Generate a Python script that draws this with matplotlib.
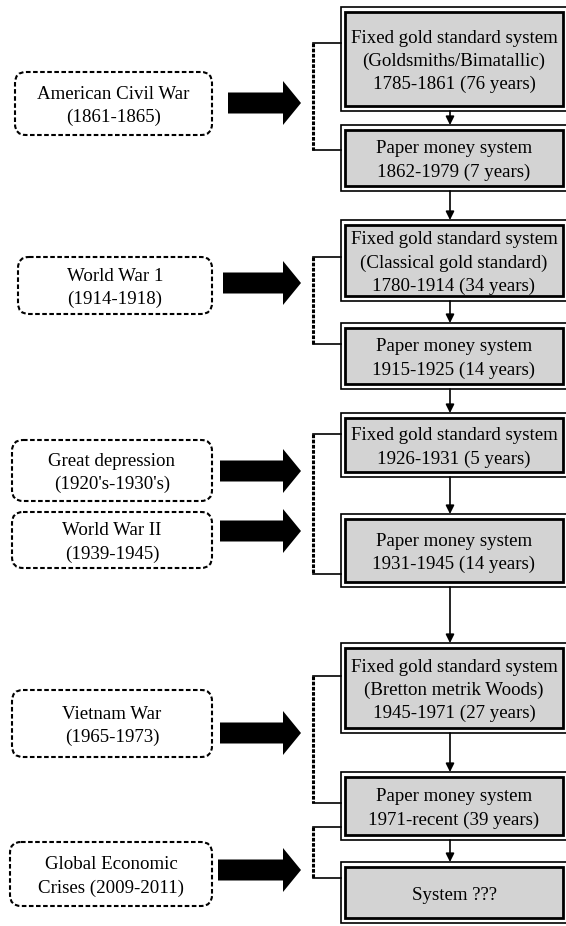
import matplotlib
matplotlib.use("Agg")
from matplotlib import pyplot as plt
from matplotlib.patches import Rectangle, FancyBboxPatch, FancyArrow

plt.rcParams['font.family'] = ['Liberation Serif', 'DejaVu Serif']

# system boxes on the right (text)
system_texts = [
    "Fixed gold standard system\n(Goldsmiths/Bimatallic)\n1785-1861 (76 years)",
    "Paper money system\n1862-1979 (7 years)",
    "Fixed gold standard system\n(Classical gold standard)\n1780-1914 (34 years)",
    "Paper money system\n1915-1925 (14 years)",
    "Fixed gold standard system\n1926-1931 (5 years)",
    "Paper money system\n1931-1945 (14 years)",
    "Fixed gold standard system\n(Bretton metrik Woods)\n1945-1971 (27 years)",
    "Paper money system\n1971-recent (39 years)",
    "System ???",
]
# outer frame top / bottom in pixels
system_top = [7, 125, 220, 323, 413, 514, 643, 772, 862]
system_bot = [111, 191, 301, 389, 477, 587, 733, 840, 923]

# events on the left
event_texts = [
    "American Civil War\n(1861-1865)",
    "World War 1\n(1914-1918)",
    "Great depression\n(1920's-1930's)",
    "World War II\n(1939-1945)",
    "Vietnam War\n(1965-1973)",
    "Global Economic\nCrises (2009-2011)",
]
event_x0 = [15, 18, 12, 12, 12, 10]
event_top = [72, 257, 440, 512, 690, 842]
event_bot = [135, 314, 501, 568, 757, 906]
arrow_x0 = [228, 223, 220, 220, 220, 218]
arrow_y = [103, 283, 471, 531, 733, 870]

# brackets joining the event to the systems
bracket_top = [43, 257, 434, 676, 827]
bracket_bot = [150, 344, 574, 803, 878]

W, H = 566, 926
fig = plt.figure(figsize=(W / 100, H / 100), dpi=100)
ax = fig.add_axes([0, 0, 1, 1])
ax.set_xlim(0, W)
ax.set_ylim(H, 0)
ax.axis('off')

fs = 13.6
ls = 1.45
dy = 2.5  # text sits a touch low in the original
ox0, ox1 = 341, 572
ix0, ix1 = 345, 563
for txt, t, b in zip(system_texts, system_top, system_bot):
    ax.add_patch(Rectangle((ox0, t), ox1 - ox0, b - t, fc='white', ec='black', lw=1.2))
    ax.add_patch(Rectangle((ix0, t + 5), ix1 - ix0, b - t - 10, fc='#d3d3d3', ec='black', lw=2.0))
    ax.text((ix0 + ix1) / 2, (t + b) / 2 + dy, txt, ha='center', va='center', fontsize=fs,
            linespacing=ls)

# small arrows between systems
for i in range(len(system_top) - 1):
    ax.annotate('', xy=(450, system_top[i + 1]), xytext=(450, system_bot[i]),
                arrowprops=dict(arrowstyle='-|>,head_length=0.5,head_width=0.25',
                                color='black', lw=1.2, shrinkA=0, shrinkB=0))

for t, b in zip(bracket_top, bracket_bot):
    ax.plot([313, 313], [t, b], color='black', lw=2.2, ls=(0, (1.2, 0.5)))
    ax.plot([313, ox0], [t, t], color='black', lw=1.2)
    ax.plot([313, ox0], [b, b], color='black', lw=1.2)

for txt, x0, t, b, ax0, ay in zip(event_texts, event_x0, event_top, event_bot, arrow_x0, arrow_y):
    ax.add_patch(FancyBboxPatch((x0, t), 212 - x0, b - t,
                                boxstyle='round,pad=0,rounding_size=11',
                                fc='white', ec='black', lw=1.5, ls=(0, (2.2, 1.2))))
    ax.text((x0 + 212) / 2, (t + b) / 2 + dy, txt, ha='center', va='center', fontsize=fs,
            linespacing=ls)
    ax.add_patch(FancyArrow(ax0, ay, 301 - ax0, 0, width=21, head_width=44,
                            head_length=18, length_includes_head=True,
                            fc='black', ec='black', lw=0))

fig.savefig('out.png', dpi=100)
